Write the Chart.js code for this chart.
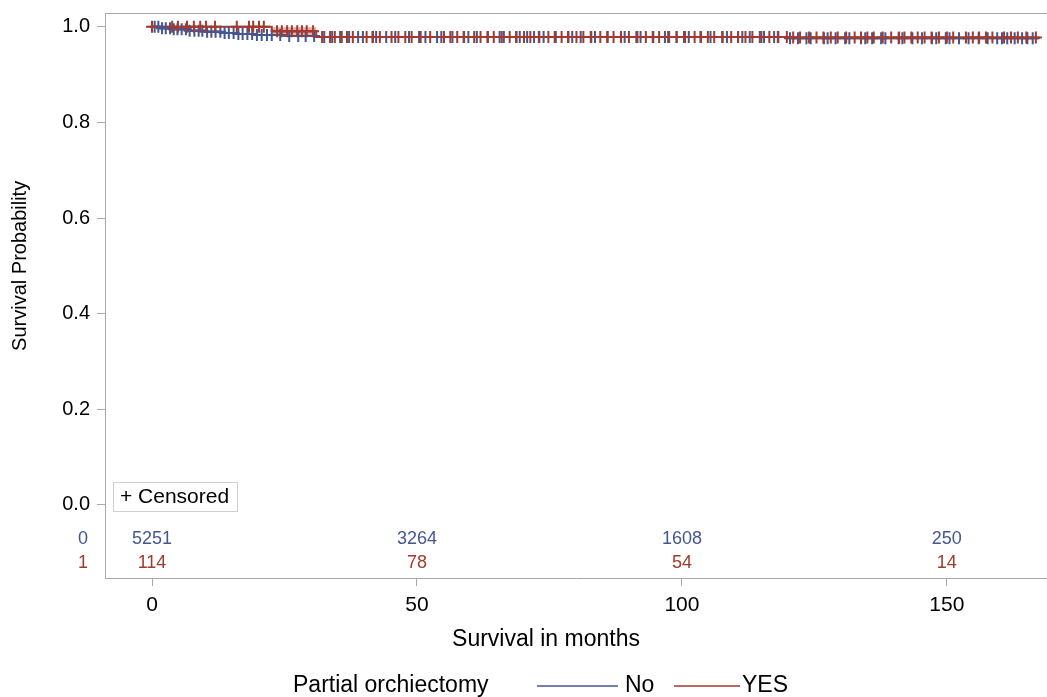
<!DOCTYPE html>
<html>
<head>
    <title>Survival by Partial orchiectomy</title>
    <script src="https://cdn.jsdelivr.net/npm/chart.js"></script>
    <style>
        html, body { margin: 0; padding: 0; background: white; }
        canvas { display: block; }
    </style>
</head>
<body>
    <canvas id="kmChart" width="1047" height="697"></canvas>

    <script>
        // Kaplan-Meier steps
        const noTimes = [0, 1.5, 4, 7, 10, 13, 16, 19, 25, 31, 120, 167.5];
        const noSurv = [1.0, 0.997, 0.995, 0.992, 0.990, 0.987, 0.985, 0.983, 0.981, 0.979, 0.976, 0.976];
        const yesTimes = [0, 22.6, 31, 120, 167.5];
        const yesSurv = [1.0, 0.991, 0.979, 0.978, 0.978];

        // confidence band shown for YES
        const yesBandTimes = [22.6, 31];
        const yesBandLow = [0.982, 0.982];
        const yesBandHigh = [0.999, 0.999];

        // censored times (months)
        const noCensor = [0.5, 1.2, 1.9, 2.6, 3.4, 4.1, 4.8, 5.6, 6.4, 7.1, 8.0, 8.8, 9.5, 10.4, 11.2, 12.0,
            12.9, 13.7, 14.5, 15.4, 16.3, 17.1, 18.0, 18.9, 19.8, 20.7, 21.7, 22.6, 24.2, 25.9, 27.6, 29.0,
            30.6, 32.5, 34.0, 35.5, 37.2, 38.9, 39.8, 41.6, 42.3, 44.2, 45.9, 48.5, 50.4, 51.6, 53.8, 54.6,
            56.7, 58.8, 59.7, 61.3, 63.4, 65.6, 66.4, 68.7, 69.4, 70.8, 72.1, 73.0, 73.9, 76.2, 78.5, 79.3,
            80.9, 82.8, 83.6, 86.0, 88.5, 89.2, 91.4, 92.2, 94.6, 96.8, 97.6, 99.0, 100.4, 101.3, 103.5,
            105.4, 107.6, 108.5, 110.6, 111.4, 112.8, 114.7, 115.5, 117.4, 118.2, 120.4, 121.9, 123.5,
            124.3, 126.8, 127.5, 129.0, 130.8, 131.6, 133.8, 134.6, 135.9, 137.6, 138.4, 140.9, 141.6,
            143.5, 145.3, 147.2, 148.0, 149.8, 150.5, 152.3, 154.1, 156.0, 157.7, 159.5, 160.4, 161.4,
            162.8, 164.2, 165.2, 166.2];
        const yesCensor = [0.0, 3.8, 4.9, 6.6, 7.9, 9.1, 10.2, 11.9, 16.0, 18.3, 19.1, 20.2, 21.1, 23.6, 24.5,
            25.5, 26.4, 27.4, 28.3, 29.2, 30.4, 32.1, 33.6, 34.5, 35.8, 36.8, 37.9, 40.5, 41.7, 43.0, 45.2,
            46.5, 47.8, 49.0, 50.7, 52.5, 55.1, 56.3, 57.6, 58.9, 60.8, 62.0, 63.3, 64.5, 66.0, 67.5, 68.8,
            70.2, 71.4, 73.1, 74.8, 76.0, 77.3, 78.6, 80.1, 81.4, 82.9, 84.6, 85.9, 87.1, 88.5, 90.0, 91.6,
            93.2, 94.5, 95.7, 97.4, 99.0, 100.6, 102.4, 103.6, 104.9, 106.1, 107.7, 109.3, 110.6, 112.0,
            113.3, 115.0, 116.5, 118.1, 119.8, 121.0, 122.3, 124.0, 125.4, 126.7, 128.1, 129.4, 131.0,
            132.6, 133.8, 135.0, 136.2, 137.9, 139.5, 141.0, 142.0, 143.3, 144.5, 145.8, 147.1, 148.5,
            150.0, 151.2, 153.6, 154.9, 156.1, 157.4, 158.6, 160.8, 162.1, 163.4, 165.0, 166.8];

        // numbers at risk
        const riskTimes = [0, 50, 100, 150];
        const noAtRisk = [5251, 3264, 1608, 250];
        const yesAtRisk = [114, 78, 54, 14];

        const xTicks = [0, 50, 100, 150];
        const yTicks = [0, 0.2, 0.4, 0.6, 0.8, 1.0];

        const BLUE = '#445694';
        const RED = '#A23A2E';
        const AXIS = '#a9a9a9';
        const FONT = 'Arial, "Liberation Sans", sans-serif';

        function survAt(times, surv, t) {
            let s = surv[0];
            for (let i = 0; i < times.length; i++) {
                if (times[i] <= t) s = surv[i];
            }
            return s;
        }

        const toPoints = (xs, ys) => xs.map((x, i) => ({ x: x, y: ys[i] }));

        const extras = {
            id: 'extras',
            afterDraw(chart) {
                const ctx = chart.ctx;
                const area = chart.chartArea;
                const xs = chart.scales.x;
                const ys = chart.scales.y;
                ctx.save();

                // top frame line
                ctx.strokeStyle = AXIS;
                ctx.lineWidth = 1;
                ctx.beginPath();
                ctx.moveTo(area.left, area.top + 0.5);
                ctx.lineTo(area.right, area.top + 0.5);
                ctx.stroke();

                // axis titles
                ctx.fillStyle = '#000';
                ctx.textAlign = 'center';
                ctx.textBaseline = 'middle';
                ctx.font = '23px ' + FONT;
                ctx.fillText('Survival in months', 546, 640);
                ctx.font = '20px ' + FONT;
                ctx.save();
                ctx.translate(20, ys.getPixelForValue(0.5));
                ctx.rotate(-Math.PI / 2);
                ctx.fillText('Survival Probability', 0, 0);
                ctx.restore();

                // censored inset legend
                ctx.strokeStyle = '#d0d0d0';
                ctx.strokeRect(113.5, 482.5, 124, 29);
                ctx.font = '21px ' + FONT;
                ctx.textAlign = 'left';
                ctx.fillText('+ Censored', 120, 497);

                // at-risk table
                const row0 = ys.getPixelForValue(0) + 34;
                const row1 = row0 + 24;
                ctx.font = '18px ' + FONT;
                ctx.textAlign = 'center';
                ctx.fillStyle = BLUE;
                ctx.fillText('0', 83, row0);
                riskTimes.forEach((t, i) => ctx.fillText(String(noAtRisk[i]), xs.getPixelForValue(t), row0));
                ctx.fillStyle = RED;
                ctx.fillText('1', 83, row1);
                riskTimes.forEach((t, i) => ctx.fillText(String(yesAtRisk[i]), xs.getPixelForValue(t), row1));

                // bottom legend
                const ly = 686;
                ctx.font = '23px ' + FONT;
                ctx.textAlign = 'left';
                ctx.fillStyle = '#000';
                ctx.fillText('Partial orchiectomy', 293, ly);
                ctx.lineWidth = 1.5;
                ctx.strokeStyle = BLUE;
                ctx.beginPath(); ctx.moveTo(537, ly); ctx.lineTo(618, ly); ctx.stroke();
                ctx.fillText('No', 625, ly);
                ctx.strokeStyle = RED;
                ctx.beginPath(); ctx.moveTo(674, ly); ctx.lineTo(740, ly); ctx.stroke();
                ctx.fillText('YES', 742, ly);

                ctx.restore();
            }
        };

        new Chart(document.getElementById('kmChart'), {
            type: 'line',
            data: {
                datasets: [
                    {
                        label: 'YES band high',
                        data: toPoints(yesBandTimes, yesBandHigh),
                        stepped: true,
                        borderWidth: 0,
                        pointRadius: 0,
                        backgroundColor: 'rgba(214, 120, 120, 0.6)',
                        fill: '+1',
                        order: 10
                    },
                    {
                        label: 'YES band low',
                        data: toPoints(yesBandTimes, yesBandLow),
                        stepped: true,
                        borderWidth: 0,
                        pointRadius: 0,
                        fill: false,
                        order: 10
                    },
                    {
                        label: 'No',
                        data: toPoints(noTimes, noSurv),
                        stepped: true,
                        borderColor: BLUE,
                        borderWidth: 2,
                        pointRadius: 0,
                        fill: false,
                        order: 8
                    },
                    {
                        label: 'YES',
                        data: toPoints(yesTimes, yesSurv),
                        stepped: true,
                        borderColor: RED,
                        borderWidth: 2,
                        pointRadius: 0,
                        fill: false,
                        order: 7
                    },
                    {
                        type: 'scatter',
                        label: 'No censored',
                        data: noCensor.map(t => ({ x: t, y: survAt(noTimes, noSurv, t) })),
                        pointStyle: 'cross',
                        pointRadius: 6,
                        borderWidth: 2,
                        borderColor: BLUE,
                        order: 6
                    },
                    {
                        type: 'scatter',
                        label: 'YES censored',
                        data: yesCensor.map(t => ({ x: t, y: survAt(yesTimes, yesSurv, t) })),
                        pointStyle: 'cross',
                        pointRadius: 6,
                        borderWidth: 2,
                        borderColor: RED,
                        order: 5
                    }
                ]
            },
            options: {
                responsive: false,
                animation: false,
                layout: { autoPadding: false, padding: { top: 13, right: 0, bottom: 42, left: 0 } },
                plugins: {
                    legend: { display: false },
                    tooltip: { enabled: false }
                },
                scales: {
                    x: {
                        type: 'linear',
                        min: -8.87,
                        max: 168.9,
                        afterBuildTicks: s => { s.ticks = xTicks.map(v => ({ value: v })); },
                        afterFit: s => { s.height = 77; s.paddingLeft = 0; s.paddingRight = 0; },
                        grid: { drawOnChartArea: false, tickLength: 8, color: AXIS },
                        border: { color: AXIS, width: 1 },
                        ticks: { color: '#000', padding: 7, maxRotation: 0, font: { size: 21, family: FONT } }
                    },
                    y: {
                        type: 'linear',
                        min: -0.153,
                        max: 1.029,
                        afterBuildTicks: s => { s.ticks = yTicks.map(v => ({ value: v })); },
                        afterFit: s => { s.width = 105; s.paddingTop = 0; s.paddingBottom = 0; },
                        grid: { drawOnChartArea: false, tickLength: 8, color: AXIS },
                        border: { color: AXIS, width: 1 },
                        ticks: {
                            color: '#000',
                            padding: 7,
                            font: { size: 20, family: FONT },
                            callback: v => v.toFixed(1)
                        }
                    }
                }
            },
            plugins: [extras]
        });
    </script>
</body>
</html>
